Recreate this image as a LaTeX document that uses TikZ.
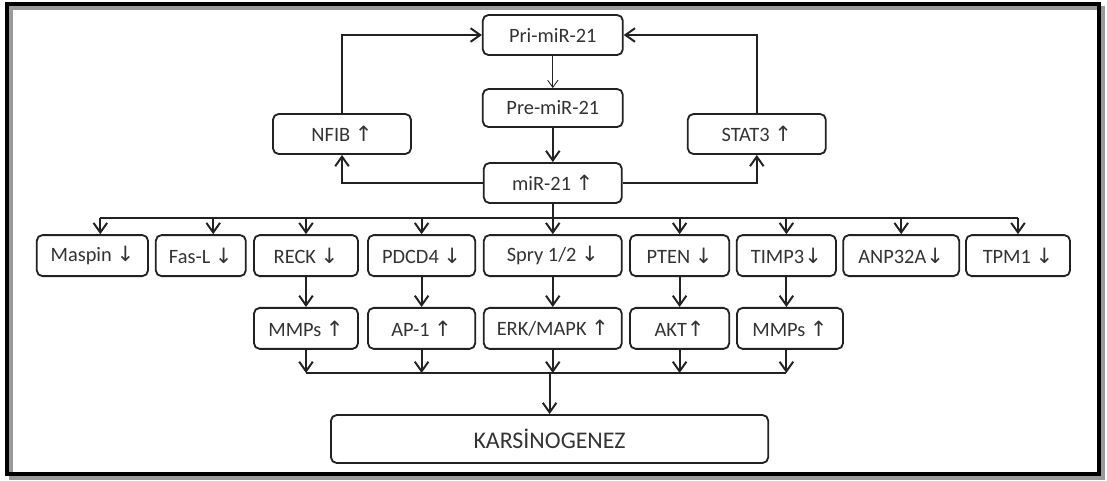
\documentclass[tikz,border=0pt]{standalone}
\usepackage{fontspec}
\setmainfont{Carlito}
\newfontfamily\arrowfont{DejaVu Sans}
\usepackage{tikz}
\usepackage{xcolor}
\usetikzlibrary{arrows.meta,positioning,calc}
\definecolor{mrink}{HTML}{222222}
\definecolor{mrtext}{HTML}{333333}
\definecolor{mrshadow}{HTML}{9A9A9A}
\newcommand{\upmark}{{\arrowfont\fontsize{15}{16}\selectfont ↑}}
\newcommand{\downmark}{{\arrowfont\fontsize{15}{16}\selectfont ↓}}
\tikzset{
  mrbox/.style    = {draw=mrink, rounded corners=4pt, line width=1.3pt,
                     align=center, inner sep=0pt, text=mrtext,
                     font=\fontsize{14.5}{16}\selectfont,
                     minimum height=1.0cm},
  genebox/.style  = {mrbox, minimum height=1.025cm},
  endbox/.style   = {mrbox, minimum height=1.2cm,
                     font=\fontsize{17}{19}\selectfont},
  %
  flow/.style     = {-{Straight Barb[length=2.4mm,width=3.4mm]}, draw=mrink,
                     line width=1.4pt},
  thinflow/.style = {-{Straight Barb[length=1.8mm,width=2.6mm]}, draw=mrink,
                     line width=0.6pt},
  busline/.style  = {draw=mrink, line width=1.4pt},
  frame/.style    = {draw=black, line width=2.6pt},
}
\begin{document}
\begin{tikzpicture}

  \useasboundingbox (0,0) rectangle (27.675,-12);

  % ---------- outer frame ---------------------------------------------
  \draw[draw=mrshadow, line width=2.6pt] (0.28,-0.2) rectangle (27.57,-11.95);
  \draw[frame] (0.175,-0.1) rectangle (27.47,-11.85);

  % ---------- miR-21 processing column --------------------------------
  \node[mrbox, minimum width=3.5cm]  (pri)  at (13.82,-0.875) {Pri-miR-21};
  \node[mrbox, minimum width=3.5cm, minimum height=0.95cm]
                                    (pre)  at (13.82,-2.70)  {Pre-miR-21};
  \node[mrbox, minimum width=3.45cm] (mir)  at (13.82,-4.575) {miR-21 \upmark};

  % feedback loops
  \node[mrbox, minimum width=3.45cm] (nfib) at ( 8.55,-3.35) {NFIB \upmark};
  \node[mrbox, minimum width=3.45cm] (stat) at (18.92,-3.35) {STAT3 \upmark};

  % ---------- targets of miR-21 ---------------------------------------
  \node[genebox, minimum width=2.78cm] (maspin) at ( 2.31,-6.39) {Maspin \downmark};
  \node[genebox, minimum width=2.25cm] (fasl)   at ( 5.02,-6.39) {Fas-L \downmark};
  \node[genebox, minimum width=2.60cm] (reck)   at ( 7.65,-6.39) {RECK \downmark};
  \node[genebox, minimum width=2.68cm] (pdcd)   at (10.54,-6.39) {PDCD4 \downmark};
  \node[genebox, minimum width=3.45cm] (spry)   at (13.82,-6.39) {Spry 1/2 \downmark};
  \node[genebox, minimum width=2.48cm] (pten)   at (16.99,-6.39) {PTEN \downmark};
  \node[genebox, minimum width=2.48cm] (timp)   at (19.66,-6.39) {TIMP3\downmark};
  \node[genebox, minimum width=2.90cm] (anp)    at (22.53,-6.39) {ANP32A\downmark};
  \node[genebox, minimum width=2.60cm] (tpm)    at (25.45,-6.39) {TPM1 \downmark};

  % ---------- downstream effectors ------------------------------------
  \node[genebox, minimum width=2.60cm] (mmpa) at ( 7.65,-8.21) {MMPs \upmark};
  \node[genebox, minimum width=2.68cm] (apone) at (10.54,-8.21) {AP-1 \upmark};
  \node[genebox, minimum width=3.45cm] (erk)  at (13.82,-8.21) {ERK/MAPK \upmark};
  \node[genebox, minimum width=2.48cm] (akt)  at (16.99,-8.21) {AKT\upmark};
  \node[genebox, minimum width=2.65cm] (mmpb) at (19.75,-8.21) {MMPs \upmark};

  \node[endbox, minimum width=10.93cm] (kars) at (13.74,-10.975) {KARSİNOGENEZ};

  % helper anchors
  \coordinate (maspinN) at ($(maspin.north)!0.14!(maspin.north east)$);
  \coordinate (faslN)   at ($(fasl.north)!0.27!(fasl.north east)$);
  \coordinate (splitT)  at (13.82,-5.45);
  \coordinate (splitB)  at (13.74,-9.325);

  % ---------- connectors ----------------------------------------------
  \draw[thinflow] (pri.south) -- (pre.north);
  \draw[flow] (pre.south) -- (mir.north);

  % miR-21 -> NFIB / STAT3 -> Pri-miR-21
  \draw[flow] (mir.west) -| (nfib.south);
  \draw[flow] (mir.east) -| (stat.south);
  \draw[flow] (nfib.north) |- (pri.west);
  \draw[flow] (stat.north) |- (pri.east);

  % miR-21 -> targets : one bus at y = -5.45
  \draw[busline] (mir.south) -- (splitT);
  \draw[busline] (splitT -| maspinN) -- (splitT -| tpm.north);
  \draw[flow] (splitT -| maspinN) -- (maspinN);
  \draw[flow] (splitT -| faslN) -- (faslN);
  \draw[flow] (splitT -| reck.north) -- (reck.north);
  \draw[flow] (splitT -| pdcd.north) -- (pdcd.north);
  \draw[flow] (splitT) -- (spry.north);
  \draw[flow] (splitT -| pten.north) -- (pten.north);
  \draw[flow] (splitT -| timp.north) -- (timp.north);
  \draw[flow] (splitT -| anp.north) -- (anp.north);
  \draw[flow] (splitT -| tpm.north) -- (tpm.north);

  % targets -> effectors
  \draw[flow] (reck.south) -- (mmpa.north);
  \draw[flow] (pdcd.south) -- (apone.north);
  \draw[flow] (spry.south) -- (erk.north);
  \draw[flow] (pten.south) -- (akt.north);
  \draw[flow] (timp.south) -- (timp.south |- mmpb.north);

  % effectors -> carcinogenesis : bus at y = -9.325
  \draw[flow] (mmpa.south) -- (mmpa.south |- splitB);
  \draw[flow] (apone.south) -- (apone.south |- splitB);
  \draw[flow] (erk.south) -- (erk.south |- splitB);
  \draw[flow] (akt.south) -- (akt.south |- splitB);
  \draw[flow] (timp.south |- mmpb.south) -- (timp.south |- splitB);
  \draw[busline] (mmpa.south |- splitB) -- (timp.south |- splitB);
  \draw[flow] (splitB) -- (kars.north);

\end{tikzpicture}
\end{document}
